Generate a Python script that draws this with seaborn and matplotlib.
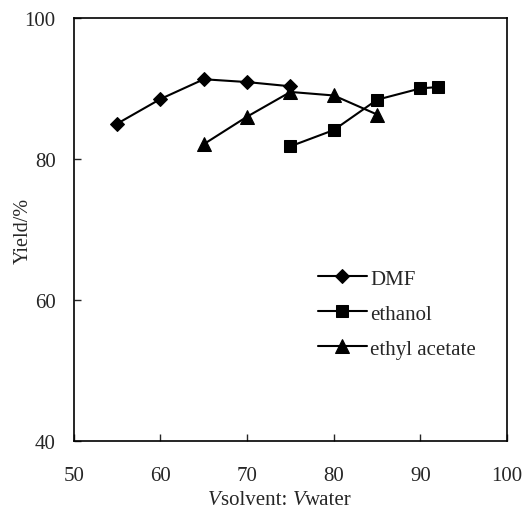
import matplotlib
matplotlib.use("Agg")
import matplotlib.pyplot as plt
import seaborn as sns
import pandas as pd
from matplotlib.offsetbox import TextArea, HPacker, AnchoredOffsetbox

dmf_x = [55, 60, 65, 70, 75]
dmf_y = [85.0, 88.5, 91.3, 90.9, 90.3]
eth_x = [75, 80, 85, 90, 92]
eth_y = [81.8, 84.1, 88.4, 90.0, 90.2]
ea_x = [65, 70, 75, 80, 85]
ea_y = [82.1, 86.0, 89.5, 89.0, 86.3]
series = ["DMF", "ethanol", "ethyl acetate"]
x_ticks = [50, 60, 70, 80, 90, 100]
y_ticks = [40, 60, 80, 100]

df = pd.concat([
    pd.DataFrame({"x": dmf_x, "y": dmf_y, "s": series[0]}),
    pd.DataFrame({"x": eth_x, "y": eth_y, "s": series[1]}),
    pd.DataFrame({"x": ea_x, "y": ea_y, "s": series[2]}),
])

sns.set_style("ticks")
plt.rcParams['font.family'] = ['Liberation Serif', 'DejaVu Serif']

fig = plt.figure(figsize=(5.31, 5.10), dpi=100)
ax = fig.add_axes([0.139, 0.133, 0.816, 0.830])
sns.lineplot(data=df, x="x", y="y", hue="s", style="s",
             palette={s: "black" for s in series},
             markers={"DMF": "D", "ethanol": "s", "ethyl acetate": "^"},
             dashes=False, markersize=8, linewidth=1.5, ax=ax,
             markeredgecolor="black", sort=False)
for ln in ax.get_lines():
    if ln.get_marker() == "D":
        ln.set_markersize(7.5)
    elif ln.get_marker() == "^":
        ln.set_markersize(9.5)

ax.set_xlim(50, 100)
ax.set_ylim(40, 100)
ax.set_xticks(x_ticks)
ax.set_yticks(y_ticks)
ax.tick_params(direction="in", labelsize=15, width=1, length=5)
ax.tick_params(axis="x", pad=18)
ax.tick_params(axis="y", pad=13)
for sp in ax.spines.values():
    sp.set_linewidth(1.2)
    sp.set_color("black")

ax.set_xlabel("")
fs = 15
parts = [TextArea("V", textprops=dict(fontstyle="italic", fontsize=fs, family="Liberation Serif")),
         TextArea("solvent: ", textprops=dict(fontsize=fs, family="Liberation Serif")),
         TextArea("V", textprops=dict(fontstyle="italic", fontsize=fs, family="Liberation Serif")),
         TextArea("water", textprops=dict(fontsize=fs, family="Liberation Serif"))]
box = HPacker(children=parts, align="baseline", pad=0, sep=0)
ab = AnchoredOffsetbox(loc="lower center", child=box, frameon=False,
                       bbox_to_anchor=(280 / 531, 0), bbox_transform=fig.transFigure,
                       pad=0, borderpad=0)
ax.add_artist(ab)
ax.set_ylabel("Yield/%", fontsize=14.5)
ax.yaxis.set_label_coords(-0.094, 0.5)

leg = ax.legend(loc="upper left", bbox_to_anchor=(318 / 531, 1 - 270 / 510),
                bbox_transform=fig.transFigure, frameon=False, borderpad=0,
                borderaxespad=0, fontsize=15, handlelength=2.35,
                labelspacing=0.74, handletextpad=0.15)
leg.set_title(None)

fig.savefig("out.png", dpi=100)
